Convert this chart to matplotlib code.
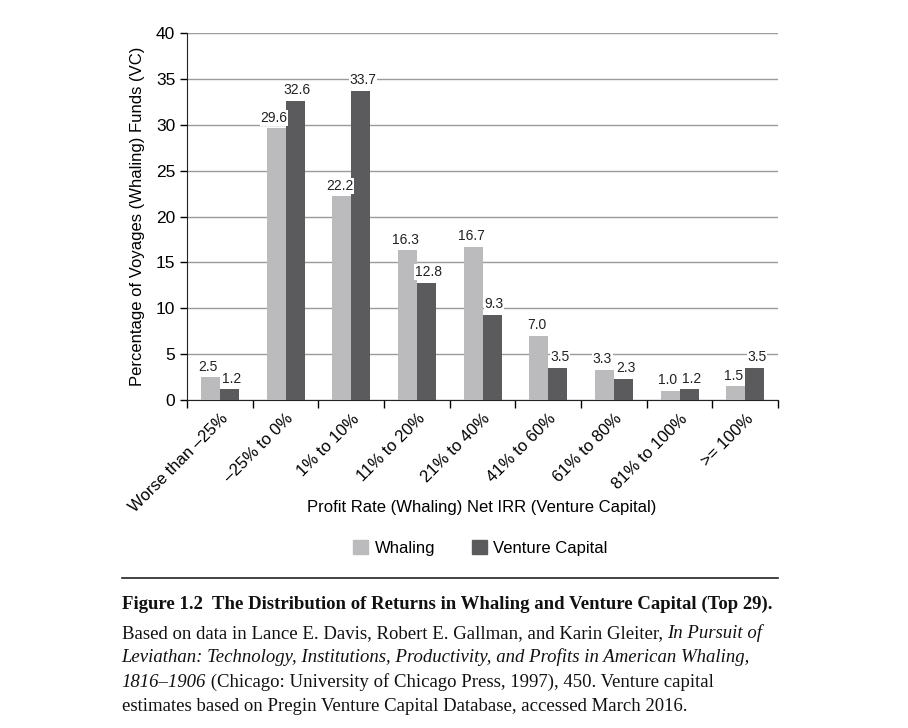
import matplotlib
matplotlib.use("Agg")
import matplotlib.pyplot as plt
from matplotlib.lines import Line2D
from matplotlib.patches import Patch
import numpy as np

categories = ["Worse than \u201325%", "\u201325% to 0%", "1% to 10%", "11% to 20%",
              "21% to 40%", "41% to 60%", "61% to 80%", "81% to 100%", ">= 100%"]
whaling = [2.5, 29.6, 22.2, 16.3, 16.7, 7.0, 3.3, 1.0, 1.5]
venture = [1.2, 32.6, 33.7, 12.8, 9.3, 3.5, 2.3, 1.2, 3.5]

LIGHT = "#bbbbbd"
DARK = "#5b5b5d"
SANS = "Liberation Sans"
SERIF = "Liberation Serif"

plt.rcParams["font.family"] = SANS

fig = plt.figure(figsize=(9.08, 7.28), dpi=100)
ax = fig.add_axes([0.206, 0.4505, 0.651, 0.5042])

x = np.arange(len(categories))
w = 0.29
b1 = ax.bar(x - w / 2, whaling, w, color=LIGHT, zorder=3)
b2 = ax.bar(x + w / 2, venture, w, color=DARK, zorder=3)

# labels nudged apart a little so neighbours don't collide
for bars, vals, dx in ((b1, whaling, -1.5), (b2, venture, 1.5)):
    for r, v in zip(bars, vals):
        ax.annotate(f"{v:.1f}", (r.get_x() + r.get_width() / 2, v),
                    xytext=(dx, 2.5), textcoords="offset points",
                    ha="center", va="bottom", fontsize=10, color="#222222",
                    bbox=dict(boxstyle="square,pad=0.05", fc="white", ec="none"),
                    zorder=4)

ax.set_ylim(0, 40)
ax.set_xlim(-0.5, len(categories) - 0.5)
ax.set_yticks(range(0, 41, 5))
ax.yaxis.grid(True, color="#9a9a9a", linewidth=1, zorder=0)
ax.set_axisbelow(True)

ax.set_xticks(x)
ax.set_xticklabels(categories, rotation=45, ha="right", rotation_mode="anchor", fontsize=12)
ax.tick_params(axis="x", which="major", length=0, pad=8)
ax.set_xticks(np.arange(-0.5, len(categories)), minor=True)
ax.tick_params(axis="x", which="minor", length=6, width=1, direction="out")
ax.tick_params(axis="y", labelsize=12.5, length=5, width=1, direction="out")

for s in ("top", "right"):
    ax.spines[s].set_visible(False)
ax.spines["left"].set_color("#222222")
ax.spines["bottom"].set_color("#222222")

ax.set_ylabel("Percentage of Voyages (Whaling) Funds (VC)", fontsize=12, labelpad=8)
fig.text(0.531, 0.303, "Profit Rate (Whaling) Net IRR (Venture Capital)",
         ha="center", va="center", fontsize=12)

handles = [Patch(color=LIGHT, label="Whaling"), Patch(color=DARK, label="Venture Capital")]
fig.legend(handles=handles, loc="center", bbox_to_anchor=(0.529, 0.247), ncol=2,
           frameon=False, fontsize=12, handlelength=0.9, handleheight=0.9,
           handletextpad=0.4, columnspacing=2.2)

fig.add_artist(Line2D([0.134, 0.857], [0.206, 0.206], transform=fig.transFigure,
                      color="#222222", linewidth=1.2))

# caption, pieced together so italic runs sit inline
fig.canvas.draw()
renderer = fig.canvas.get_renderer()


def caption_line(y, parts, size=13.5):
    xpos = 0.134
    for txt, style, weight in parts:
        t = fig.text(xpos, y, txt, fontsize=size, family=SERIF, style=style,
                     weight=weight, va="baseline", ha="left", color="#111111")
        bb = t.get_window_extent(renderer=renderer)
        xpos += bb.width / fig.bbox.width


caption_line(0.163, [("Figure 1.2  The Distribution of Returns in Whaling and Venture Capital (Top 29).",
                      "normal", "bold")])
caption_line(0.124, [("Based on data in Lance E. Davis, Robert E. Gallman, and Karin Gleiter, ", "normal", "normal"),
                     ("In Pursuit of", "italic", "normal")])
caption_line(0.090, [("Leviathan: Technology, Institutions, Productivity, and Profits in American Whaling,",
                      "italic", "normal")])
caption_line(0.056, [("1816\u20131906", "italic", "normal"),
                     (" (Chicago: University of Chicago Press, 1997), 450. Venture capital", "normal", "normal")])
caption_line(0.024, [("estimates based on Pregin Venture Capital Database, accessed March 2016.",
                      "normal", "normal")])

fig.savefig("out.png", dpi=100)
